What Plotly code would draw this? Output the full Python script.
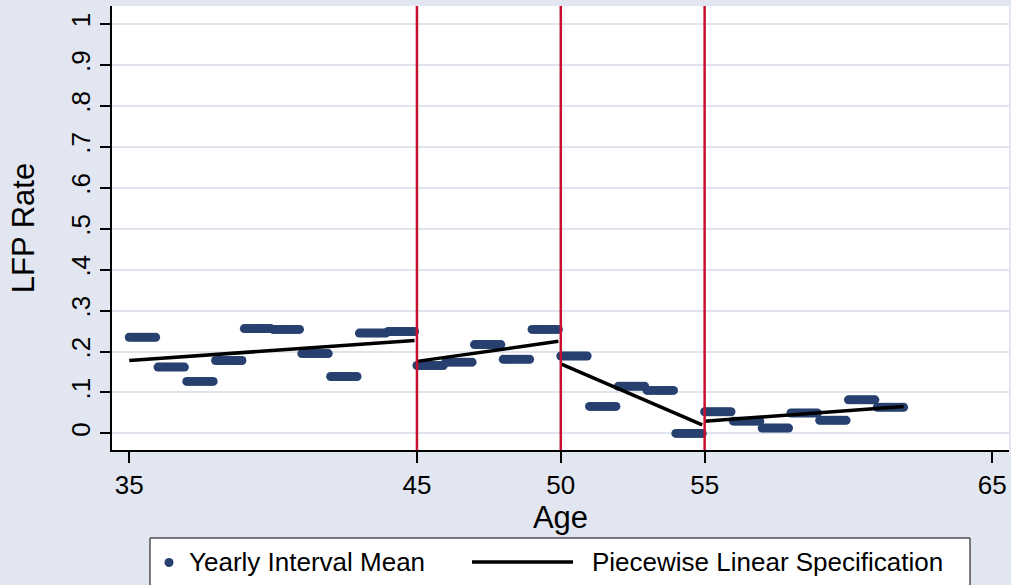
import plotly.graph_objects as go

# ---------------- data ----------------
ages = list(range(35, 62))
yearly_means = [0.235, 0.162, 0.127, 0.178, 0.256, 0.254, 0.195, 0.139, 0.245, 0.249,
                0.166, 0.174, 0.217, 0.181, 0.254, 0.189, 0.066, 0.115, 0.105, 0.000,
                0.053, 0.030, 0.013, 0.050, 0.032, 0.082, 0.064]
months = list(range(12))  # monthly observations within each year of age

fit_x_start = [35.0, 45.0, 50.0, 55.0]
fit_x_end = [44.917, 49.917, 54.917, 61.917]
fit_y_start = [0.178, 0.176, 0.170, 0.030]
fit_y_end = [0.227, 0.225, 0.021, 0.066]

knots = [45, 50, 55]
x_ticks = [35, 45, 50, 55, 65]
y_ticks = [0, 0.1, 0.2, 0.3, 0.4, 0.5, 0.6, 0.7, 0.8, 0.9, 1.0]
y_tick_labels = ["0", ".1", ".2", ".3", ".4", ".5", ".6", ".7", ".8", ".9", "1"]

# ---------------- style ----------------
W, H = 1011, 585
ML, MR, MT, MB = 112, 2, 6, 135
BG = "#e2e6f0"
NAVY = "#27406f"
RED = "#c8102e"
FONT = "Liberation Sans, Arial, sans-serif"
FS = 26

sx, sy = [], []
for a, m in zip(ages, yearly_means):
    for k in months:
        sx.append(a + k / 12)
        sy.append(m)

lx, ly = [], []
for x0, x1, y0, y1 in zip(fit_x_start, fit_x_end, fit_y_start, fit_y_end):
    lx += [x0, x1, None]
    ly += [y0, y1, None]

fig = go.Figure()
fig.add_trace(go.Scatter(x=sx, y=sy, mode="markers", name="Yearly Interval Mean",
                         marker=dict(color=NAVY, size=9, line=dict(width=0)),
                         showlegend=False))
fig.add_trace(go.Scatter(x=lx, y=ly, mode="lines", name="Piecewise Linear Specification",
                         line=dict(color="black", width=3.5), showlegend=False))

for k in knots:
    fig.add_shape(type="line", xref="x", yref="paper", x0=k, x1=k, y0=0, y1=1,
                  line=dict(color=RED, width=2.5), layer="above")

pw = W - ML - MR
ph = H - MT - MB


def px(xp):
    return (xp - ML) / pw


def py(yp):
    return (H - MB - yp) / ph


# manual legend box (Stata style)
fig.add_shape(type="rect", xref="paper", yref="paper", x0=px(150), x1=px(970),
              y0=py(538), y1=py(610), line=dict(color="black", width=1),
              fillcolor="white", layer="above")
fig.add_shape(type="circle", xref="paper", yref="paper", x0=px(164.5), x1=px(173.5),
              y0=py(558), y1=py(567), line=dict(width=0), fillcolor=NAVY, layer="above")
fig.add_shape(type="line", xref="paper", yref="paper", x0=px(472), x1=px(573),
              y0=py(562), y1=py(562), line=dict(color="black", width=3.5), layer="above")
fig.add_annotation(text="Yearly Interval Mean", xref="paper", yref="paper",
                   x=px(187), y=py(562), xanchor="left", yanchor="middle",
                   showarrow=False, font=dict(family=FONT, size=FS, color="black"))
fig.add_annotation(text="Piecewise Linear Specification", xref="paper", yref="paper",
                   x=px(590), y=py(562), xanchor="left", yanchor="middle",
                   showarrow=False, font=dict(family=FONT, size=FS, color="black"))

fig.update_layout(
    width=W, height=H,
    margin=dict(l=ML, r=MR, t=MT, b=MB, pad=0),
    paper_bgcolor=BG, plot_bgcolor="white",
    font=dict(family=FONT, size=FS, color="black"),
    showlegend=False,
    xaxis=dict(range=[34.40, 65.58], tickvals=x_ticks, ticktext=[str(t) for t in x_ticks],
               showgrid=False, zeroline=False, showline=True, linecolor="black",
               linewidth=1.5, ticks="outside", ticklen=11, tickwidth=1.5,
               tickcolor="black", title=dict(text="Age", standoff=2),
               tickfont=dict(size=FS)),
    yaxis=dict(range=[-0.0405, 1.044], tickvals=y_ticks, ticktext=y_tick_labels,
               tickangle=-90, showgrid=True, gridcolor="#dfe3ee", gridwidth=2,
               zeroline=False, showline=True, linecolor="black", linewidth=1.5,
               ticks="outside", ticklen=10, tickwidth=1.5, tickcolor="black",
               title=dict(text="LFP Rate", standoff=22), tickfont=dict(size=FS)),
)

fig.write_html("out.html")
